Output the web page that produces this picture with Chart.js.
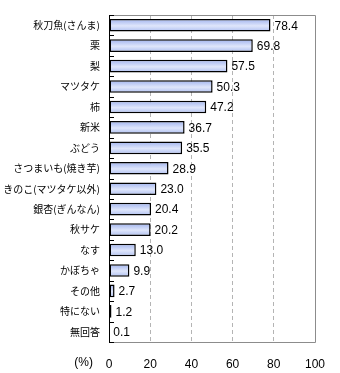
<!DOCTYPE html>
<html>
<head>
<meta charset="utf-8">
<script src="https://cdn.jsdelivr.net/npm/chart.js@4"></script>
<style>
html,body{margin:0;padding:0;background:#fff;}
#wrap{width:340px;height:373px;position:relative;}
</style>
</head>
<body>
<div id="wrap"><canvas id="c" width="340" height="373"></canvas></div>
<script>
const categories = ["秋刀魚(さんま)","栗","梨","マツタケ","柿","新米","ぶどう","さつまいも(焼き芋)","きのこ(マツタケ以外)","銀杏(ぎんなん)","秋サケ","なす","かぼちゃ","その他","特にない","無回答"];
const values = [78.4,69.8,57.5,50.3,47.2,36.7,35.5,28.9,23.0,20.4,20.2,13.0,9.9,2.7,1.2,0.1];
const xTicks = [0,20,40,60,80,100];
const unitLabel = "(%)";

const BAR_PCT = 0.62;
const NUM_FONT = '12px "Liberation Sans", Arial, sans-serif';
const JP_FONT_FAMILY = '"Noto Sans CJK JP", sans-serif';

const decorPlugin = {
  id: 'decor',
  beforeDatasetsDraw(chart) {
    const {ctx, chartArea: a} = chart;
    ctx.save();
    ctx.strokeStyle = '#8c8c8c';
    ctx.lineWidth = 1;
    ctx.beginPath();
    ctx.moveTo(a.left, Math.round(a.top) + 0.5);
    ctx.lineTo(Math.round(a.right) + 0.5, Math.round(a.top) + 0.5);
    ctx.lineTo(Math.round(a.right) + 0.5, Math.round(a.bottom) + 0.5);
    ctx.lineTo(a.left, Math.round(a.bottom) + 0.5);
    ctx.stroke();
    ctx.strokeStyle = '#000';
    ctx.beginPath();
    ctx.moveTo(Math.round(a.left) + 0.5, a.top);
    ctx.lineTo(Math.round(a.left) + 0.5, a.bottom + 1);
    ctx.stroke();
    const ys = chart.scales.y;
    const sp = Math.abs(ys.getPixelForValue(1) - ys.getPixelForValue(0));
    ctx.beginPath();
    for (let i = 0; i <= categories.length; i++) {
      const yy = Math.round(ys.getPixelForValue(i) - sp / 2) + 0.5;
      ctx.moveTo(a.left, yy);
      ctx.lineTo(a.left + 5, yy);
    }
    ctx.stroke();
    ctx.restore();
  },
  afterDatasetsDraw(chart) {
    const {ctx, chartArea: a} = chart;
    ctx.save();
    ctx.font = NUM_FONT;
    ctx.fillStyle = '#000';
    ctx.textBaseline = 'middle';
    ctx.textAlign = 'left';
    const meta = chart.getDatasetMeta(0);
    meta.data.forEach((bar, i) => {
      ctx.fillText(values[i].toFixed(1), bar.x + 4, bar.y + 1);
    });
    ctx.textAlign = 'right';
    ctx.fillText(unitLabel, a.left - 16, a.bottom + 21);
    ctx.restore();
  }
};

function barFill(c) {
  const chart = c.chart;
  const {ctx, chartArea} = chart;
  if (!chartArea || !chart.scales.y) return '#b8c6f2';
  const ys = chart.scales.y;
  const yc = ys.getPixelForValue(c.dataIndex);
  const sp = Math.abs(ys.getPixelForValue(1) - ys.getPixelForValue(0));
  const h = sp * BAR_PCT / 2;
  const g = ctx.createLinearGradient(0, yc - h, 0, yc + h);
  g.addColorStop(0, '#9fb2ee');
  g.addColorStop(0.55, '#dfe6fb');
  g.addColorStop(1, '#aebff1');
  return g;
}

new Chart(document.getElementById('c'), {
  type: 'bar',
  data: {
    labels: categories,
    datasets: [{
      data: values,
      backgroundColor: barFill,
      borderColor: '#000',
      borderWidth: 1.5,
      borderSkipped: false,
      barPercentage: BAR_PCT,
      categoryPercentage: 1
    }]
  },
  options: {
    indexAxis: 'y',
    responsive: false,
    animation: false,
    events: [],
    layout: {padding: {top: 7, right: 12, left: 0, bottom: 0}},
    plugins: {legend: {display: false}, tooltip: {enabled: false}},
    scales: {
      x: {
        min: 0, max: 100,
        afterBuildTicks: s => { s.ticks = xTicks.map(v => ({value: v})); },
        afterFit: s => { s.height = 31; },
        grid: {
          color: c => (c.tick && (c.tick.value === 0 || c.tick.value === 100)) ? 'rgba(0,0,0,0)' : '#b4b4b4',
          lineWidth: 1,
          drawTicks: false
        },
        border: {display: false, dash: [4, 3]},
        ticks: {
          padding: 15,
          color: '#000',
          font: {family: '"Liberation Sans", Arial, sans-serif', size: 12},
          maxRotation: 0
        }
      },
      y: {
        afterFit: s => { s.width = 109; },
        grid: {display: false, drawTicks: false},
        border: {display: false},
        ticks: {
          padding: 9,
          color: '#000',
          autoSkip: false,
          font: {family: JP_FONT_FAMILY, size: 10}
        }
      }
    }
  },
  plugins: [decorPlugin]
});
</script>
</body>
</html>
